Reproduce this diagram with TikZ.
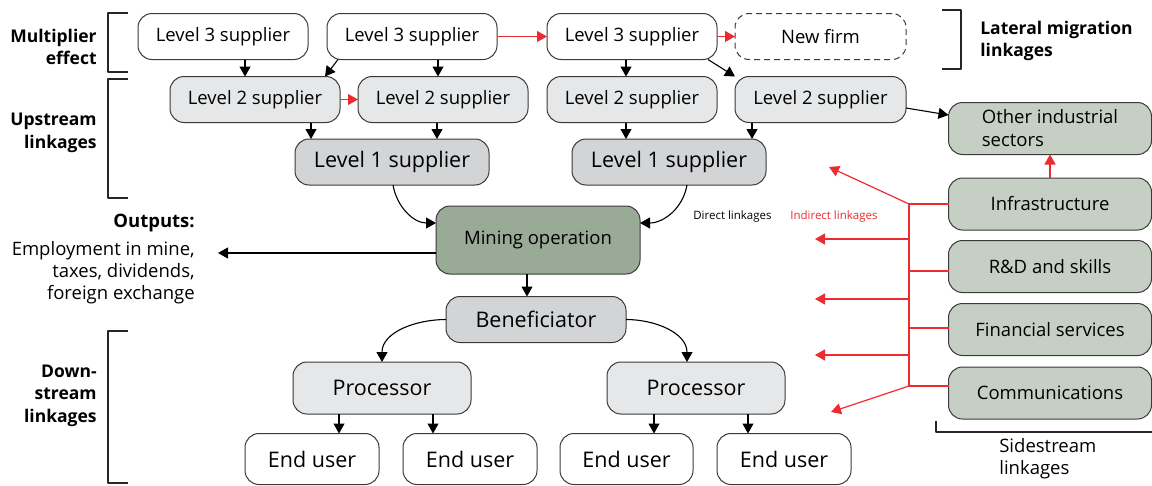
\documentclass[tikz,border=0pt]{standalone}
\usepackage{fontspec}
\setmainfont{Open Sans}
\usetikzlibrary{arrows.meta,positioning,calc}

\definecolor{lvlgrey}{HTML}{E6E7E8}
\definecolor{midgrey}{HTML}{D3D4D6}
\definecolor{minegreen}{HTML}{99AB97}
\definecolor{sidegreen}{HTML}{C6CFC4}
\definecolor{linkred}{HTML}{EC2B2E}
\definecolor{edgegrey}{HTML}{3A3A3A}

\begin{document}
\begin{tikzpicture}[x=1pt,y=-1pt, line join=round,
                    every node/.style={outer sep=0pt}]

  \tikzset{
    box/.style={rounded corners=14pt, draw=edgegrey, line width=1pt, inner sep=0pt, align=center,
                font=\fontsize{18.5}{23}\selectfont},
    lvlthree/.style={box, fill=white, minimum width=170pt, minimum height=46pt},
    lvltwo/.style={box, fill=lvlgrey, minimum width=170pt, minimum height=46pt},
    lvlone/.style={box, fill=midgrey, minimum width=194pt, minimum height=46pt, font=\fontsize{21.5}{25}\selectfont},
    minebox/.style={box, fill=minegreen, minimum width=204pt, minimum height=68pt},
    procbox/.style={box, fill=lvlgrey, minimum width=178pt, minimum height=52pt, font=\fontsize{21.5}{25}\selectfont},
    userbox/.style={box, fill=white, minimum width=134pt, minimum height=51pt, font=\fontsize{21.5}{25}\selectfont},
    sidebox/.style={box, fill=sidegreen, minimum width=203pt, minimum height=52pt},
    arr/.style={-{Triangle[width=11pt,length=10pt]}, line width=1.1pt, draw=black},
    redarr/.style={-{Triangle[width=11pt,length=10pt]}, line width=1.2pt, draw=linkred},
    redline/.style={line width=1.2pt, draw=linkred},
    bracket/.style={line width=1.6pt, draw=black!85},
    sidelabel/.style={font=\fontsize{17.5}{22.5}\selectfont\bfseries, align=right, anchor=east},
    smalllabel/.style={font=\fontsize{11.5}{14}\selectfont, anchor=west}
  }

  \path[use as bounding box] (0,0) rectangle (1152,485);

  % supplier chain
  \node[lvlthree] (l3a) at (223,36.5) {Level 3 supplier};
  \node[lvlthree] (l3b) at (412,36.5) {Level 3 supplier};
  \node[lvlthree] (l3c) at (632,36.5) {Level 3 supplier};
  \node[lvlthree, dash pattern=on 6pt off 4pt, minimum width=171pt] (newfirm) at (820.5,36.5) {New firm};

  \node[lvltwo] (l2a) at (255,99.5) {Level 2 supplier};
  \node[lvltwo] (l2b) at (443,99.5) {Level 2 supplier};
  \node[lvltwo] (l2c) at (632,99.5) {Level 2 supplier};
  \node[lvltwo, minimum width=171pt] (l2d) at (820.5,99.5) {Level 2 supplier};

  \node[lvlone] (l1a) at (392,162) {Level 1 supplier};
  \node[lvlone] (l1b) at (669,162) {Level 1 supplier};

  \node[minebox] (mine) at (538,240) {Mining operation};
  \node[lvlone, minimum width=180pt] (benef) at (536,319.5) {Beneficiator};

  \node[procbox] (proca) at (382,388) {Processor};
  \node[procbox] (procb) at (696,388) {Processor};

  \node[userbox] (usera) at (312,459) {End user};
  \node[userbox] (userb) at (470,459) {End user};
  \node[userbox, minimum width=133pt] (userc) at (626.5,459) {End user};
  \node[userbox] (userd) at (784,459) {End user};

  % sidestream
  \node[sidebox, align=left] (other) at (1050,128.5) {Other industrial\\sectors};
  \node[sidebox] (infra) at (1050,204) {Infrastructure};
  \node[sidebox] (rnd) at (1050,266.5) {R\&D and skills};
  \node[sidebox] (fin) at (1050,329.5) {Financial services};
  \node[sidebox] (comm) at (1050,393) {Communications};

  % labels
  \node[sidelabel] (multlbl) at (100,47) {Multiplier\\effect};
  \node[sidelabel] (uplbl) at (100,133) {Upstream\\linkages};
  \node[sidelabel] (downlbl) at (100,395.5) {Down-\\stream\\linkages};
  \node[sidelabel, anchor=west, align=left] (latlbl) at (977,41) {Lateral migration\\linkages};
  \node[font=\fontsize{18.5}{22}\selectfont, anchor=west, align=left] (sidelbl) at (996,459) {Sidestream\\linkages};
  \node[font=\fontsize{18.5}{22}\selectfont, anchor=east, align=right] (outputs) at (198,259)
    {\textbf{Outputs:}\\[6pt]Employment in mine,\\taxes, dividends,\\foreign exchange};
  \node[smalllabel] (directlbl) at (690,217) {Direct linkages};
  \node[smalllabel, text=linkred] (indirectlbl) at (787,217) {Indirect linkages};

  % brackets
  \draw[bracket] (128,13) -| (108,72) -- (128,72);
  \draw[bracket] (128,79) -| (108,198) -- (128,198);
  \draw[bracket] (128,331) -| (108,483) -- (128,483);
  \draw[bracket] (942,10) -| (961,69) -- (942,69);
  \draw[bracket] (936,421) |- (1152,432);

  % direct linkages
  \draw[arr] ([xshift=22pt]l3a.south) -- ([xshift=-10pt]l2a.north);
  \draw[arr] ([xshift=-74pt]l3b.south) -- ([xshift=70pt]l2a.north);
  \draw[arr] ([xshift=26pt]l3b.south) -- ([xshift=-5pt]l2b.north);
  \draw[arr] ([xshift=-6pt]l3c.south) -- ([xshift=-6pt]l2c.north);
  \draw[arr] ([xshift=76pt]l3c.south) -- (l2d.north west);
  \draw[arr] ([xshift=56pt]l2a.south) -- ([xshift=-81pt]l1a.north);
  \draw[arr] ([xshift=-6pt]l2b.south) -- ([xshift=45pt]l1a.north);
  \draw[arr] ([xshift=-6pt]l2c.south) -- ([xshift=-43pt]l1b.north);
  \draw[arr] ([xshift=-68.5pt]l2d.south) -- ([xshift=83pt]l1b.north);
  \draw[arr] ([xshift=1pt]l1a.south) to[out=-80,in=180] ([yshift=17pt]mine.west);
  \draw[arr] ([xshift=18pt]l1b.south) to[out=-100,in=0] ([yshift=17pt]mine.east);
  \draw[arr] ([xshift=-11pt]mine.south) -- ([xshift=-9pt]benef.north);
  \coordinate (outtip) at (218,253);
  \draw[arr] ([yshift=-13pt]mine.west) -- (outtip);
  \draw[arr] (benef.west) to[out=180,in=90] (proca.north);
  \draw[arr] (benef.east) to[out=0,in=90] ([xshift=-9pt]procb.north);
  \draw[arr] ([xshift=-43pt]proca.south) -- ([xshift=27pt]usera.north);
  \draw[arr] ([xshift=51pt]proca.south) -- ([xshift=-37pt]userb.north);
  \draw[arr] ([xshift=-42pt]procb.south) -- ([xshift=27.5pt]userc.north);
  \draw[arr] ([xshift=52pt]procb.south) -- ([xshift=-36pt]userd.north);
  \draw[arr] ([yshift=-8.5pt]l2d.east) -- ([yshift=13.5pt]other.west);

  % lateral migration
  \draw[redarr] (l3b.east) -- (l3c.west);
  \draw[redarr] (l3c.east) -- (newfirm.west);
  \draw[redarr] (l2a.east) -- (l2b.west);

  % indirect linkages
  \draw[redarr] (infra.north) -- (other.south);
  \coordinate (spine) at (909,0);
  \coordinate (jtop) at (909,204);
  \coordinate (jbot) at (909,386);
  \draw[redline] (jtop) -- (jbot);
  \draw[redline] (infra.west) -- (jtop);
  \draw[redline] ([yshift=-4.5pt]rnd.west) -- ([yshift=-4.5pt]rnd.west -| spine);
  \draw[redline] ([yshift=1.5pt]fin.west) -- ([yshift=1.5pt]fin.west -| spine);
  \draw[redline] ([yshift=7pt]comm.west) -- (jbot);
  \coordinate (tip1) at (829,167);
  \coordinate (tip2) at (815,239);
  \coordinate (tip3) at (815,299);
  \coordinate (tip4) at (815,355);
  \coordinate (tip5) at (831,412);
  \draw[redarr] (jtop) -- (tip1);
  \draw[redarr] (jtop |- tip2) -- (tip2);
  \draw[redarr] (jtop |- tip3) -- (tip3);
  \draw[redarr] (jtop |- tip4) -- (tip4);
  \draw[redarr] (jbot) -- (tip5);
\end{tikzpicture}
\end{document}
